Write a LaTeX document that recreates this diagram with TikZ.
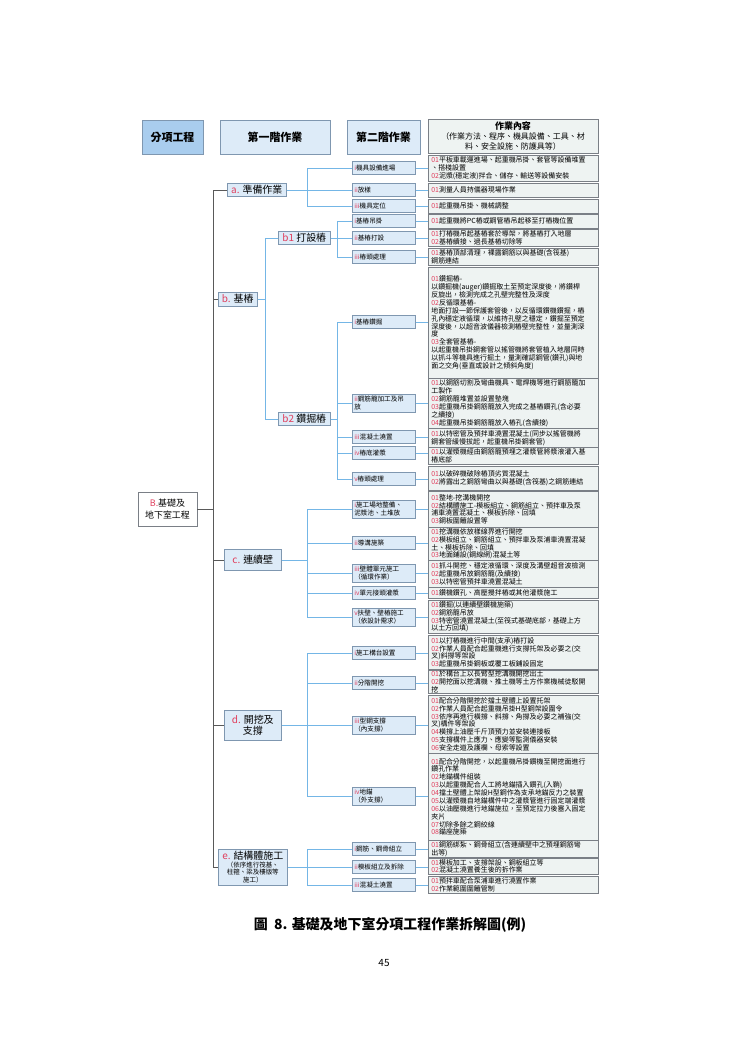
\documentclass[tikz,border=0pt]{standalone}
\usepackage{fontspec}
\setmainfont{Noto Sans CJK TC}
\definecolor{boxfill}{HTML}{DDEBF8}
\definecolor{hdrfill}{HTML}{A9CDEE}
\definecolor{boxline}{HTML}{7F97B0}
\definecolor{cfill}{HTML}{EEF3F2}
\definecolor{cline}{HTML}{7A7F86}
\definecolor{conncol}{HTML}{74B6E6}
\definecolor{redn}{HTML}{E0405E}
\newcommand{\R}[1]{\textcolor{redn}{#1}}
\newcommand{\fs}[2]{\fontsize{#1}{#2}\selectfont}
\begin{document}
\begin{tikzpicture}[x=1bp,y=-1bp,
  hdr/.style={draw=boxline,fill=boxfill,line width=0.6pt,font=\fs{11}{13}\bfseries,align=center,inner sep=1pt},
  lone/.style={draw=boxline,fill=boxfill,line width=0.6pt,anchor=west,font=\fs{10}{11},align=center,inner sep=1.5pt},
  ltwo/.style={draw=boxline,fill=boxfill,line width=0.6pt,anchor=west,font=\fs{6.6}{7.6},align=left,text width=59bp,minimum height=13bp,inner sep=2pt},
  cbox/.style={draw=cline,fill=cfill,line width=0.6pt,anchor=north west,font=\fs{7}{7.9},align=left,text width=164bp,inner xsep=3pt,inner ysep=0.5pt},
  conn/.style={draw=conncol,line width=0.7pt},
  trunk/.style={draw=gray!70!black,line width=0.7pt}]
\fill[white] (0,0) rectangle (740,1047);
\useasboundingbox (0,0) rectangle (740,1047);
% headers
\node[hdr,fill=hdrfill,minimum width=61bp,minimum height=34bp] (h1) at (172.5,137) {分項工程};
\node[hdr,minimum width=110bp,minimum height=34bp] (h2) at (275,137) {第一階作業};
\node[hdr,minimum width=73bp,minimum height=34bp] (h3) at (383.5,137) {第二階作業};
\node[hdr,fill=cfill,draw=cline,minimum width=170bp,minimum height=34bp,font=\fs{8}{9.6}] (h4) at (513,136) {\textbf{\fs{9}{11}作業內容}\\（作業方法、程序、機具設備、工具、材\\料、安全設施、防護具等）};
% root
\node[draw=cline,fill=white,line width=0.6pt,minimum width=59bp,minimum height=34bp,font=\fs{9}{12},align=center] (B) at (167.5,509) {\R{B.}基礎及\\地下室工程};
% level 1
\node[lone,minimum width=59bp,minimum height=13bp] (a) at (227,190) {\R{a.} 準備作業};
\node[lone,minimum width=39bp,minimum height=14bp] (b) at (218,299) {\R{b.} 基樁};
\node[lone,minimum width=52bp,minimum height=13bp] (b1) at (278,238) {\R{b1} 打設樁};
\node[lone,minimum width=52bp,minimum height=13bp] (b2) at (278,419) {\R{b2} 鑽掘樁};
\node[lone,minimum width=57bp,minimum height=21bp] (c) at (224,560) {\R{c.} 連續壁};
\node[lone,minimum width=57bp,minimum height=30bp,align=center] (d) at (224,725) {\R{d.} 開挖及\\支撐};
\node[lone,minimum width=69bp,minimum height=36bp,font=\fs{6.5}{7.5}] (e) at (218,867) {{\fs{10}{11}\R{e.} 結構體施工}\\（依序進行筏基、\\柱箍、梁及樓版等\\施工）};
% level 2
\node[ltwo] (ai) at (352,168) {\R{i}機具設備進場};
\node[ltwo] (aii) at (352,190) {\R{ii}放樣};
\node[ltwo] (aiii) at (352,206) {\R{iii}機具定位};
\node[ltwo] (b1i) at (352,221) {\R{i}基樁吊掛};
\node[ltwo] (b1ii) at (352,238) {\R{ii}基樁打設};
\node[ltwo] (b1iii) at (352,257) {\R{iii}樁頭處理};
\node[ltwo] (b2i) at (352,322) {\R{i}基樁鑽掘};
\node[ltwo] (b2ii) at (352,403) {\R{ii}鋼筋籠加工及吊\\放};
\node[ltwo] (b2iii) at (352,437) {\R{iii}混凝土澆置};
\node[ltwo] (b2iv) at (352,453) {\R{iv}樁底灌漿};
\node[ltwo] (b2v) at (352,479) {\R{v}樁頭處理};
\node[ltwo] (ci) at (352,509) {\R{i}施工場地整備、\\泥漿池、土堆放};
\node[ltwo] (cii) at (352,543) {\R{ii}導溝施築};
\node[ltwo] (ciii) at (352,573) {\R{iii}壁體單元施工\\（循環作業）};
\node[ltwo] (civ) at (352,593) {\R{iv}單元接頭灌漿};
\node[ltwo] (cv) at (352,617) {\R{v}扶壁、壁樁施工\\（依設計需求）};
\node[ltwo] (di) at (352,653) {\R{i}施工構台設置};
\node[ltwo] (dii) at (352,683) {\R{ii}分階開挖};
\node[ltwo] (diii) at (352,725) {\R{iii}型鋼支撐\\（內支撐）};
\node[ltwo] (div) at (352,796) {\R{iv}地錨\\（外支撐）};
\node[ltwo] (ei) at (352,849) {\R{i}鋼筋、鋼骨組立};
\node[ltwo] (eii) at (352,867) {\R{ii}模板組立及拆除};
\node[ltwo] (eiii) at (352,885) {\R{iii}混凝土澆置};
% content
\node[cbox,minimum height=26bp] (Cai) at (428,155) {\R{01}平板車載運進場、起重機吊掛、套管等設備堆置\\、搭棧設置\\\R{02}泥漿(穩定液)拌合、儲存、輸送等設備安裝};
\node[cbox,minimum height=14bp] (Caii) at (428,183) {\R{01}測量人員持儀器現場作業};
\node[cbox,minimum height=14bp] (Caiii) at (428,199) {\R{01}起重機吊掛、機械調整};
\node[cbox,minimum height=14bp] (Cb1i) at (428,214) {\R{01}起重機將PC樁或鋼管樁吊起移至打樁機位置};
\node[cbox,minimum height=17bp] (Cb1ii) at (428,229) {\R{01}打樁機吊起基樁套於導架，將基樁打入地層\\\R{02}基樁續接、過長基樁切除等};
\node[cbox,minimum height=17bp] (Cb1iii) at (428,248) {\R{01}基樁頂部清理，裸露鋼筋以與基礎(含筏基)\\鋼筋連結};
\node[cbox,minimum height=111bp] (Cb2i) at (428,267) {\R{01}鑽掘樁-\\以鑽掘機(\textit{auger})鑽掘取土至預定深度後，將鑽桿\\反旋出，檢測完成之孔壁完整性及深度\\\R{02}反循環基樁-\\地面打設一節保護套管後，以反循環鑽機鑽掘，樁\\孔內穩定液循環，以維持孔壁之穩定，鑽掘至預定\\深度後，以超音波儀器檢測樁壁完整性，並量測深\\度\\\R{03}全套管基樁-\\以起重機吊掛鋼套管以搖管機將套管植入地層同時\\以抓斗等機具進行掘土，量測確認鋼管(鑽孔)與地\\面之交角(垂直或設計之傾斜角度)};
\node[cbox,minimum height=50bp] (Cb2ii) at (428,378) {\R{01}以鋼筋切割及彎曲機具、電焊機等進行鋼筋籠加\\工製作\\\R{02}鋼筋籠堆置並設置墊塊\\\R{03}起重機吊掛鋼筋籠放入完成之基樁鑽孔(含必要\\之續接)\\\R{04}起重機吊掛鋼筋籠放入樁孔(含續接)};
\node[cbox,minimum height=19bp] (Cb2iii) at (428,428) {\R{01}以特密管及預拌車澆置混凝土(同步以搖管機將\\鋼套管緩慢拔起，起重機吊掛鋼套管)};
\node[cbox,minimum height=17bp] (Cb2iv) at (428,447) {\R{01}以灌漿機經由鋼筋籠預埋之灌漿管將漿液灌入基\\樁底部};
\node[cbox,minimum height=24bp] (Cb2v) at (428,466) {\R{01}以破碎機破除樁頂劣質混凝土\\\R{02}將露出之鋼筋彎曲以與基礎(含筏基)之鋼筋連結};
\node[cbox,minimum height=36bp] (Cci) at (428,491) {\R{01}整地-挖溝機開挖\\\R{02}結構體施工-模板組立、鋼筋組立、預拌車及泵\\浦車澆置混凝土、模板拆除、回填\\\R{03}鋼板圍籬設置等};
\node[cbox,minimum height=33bp] (Ccii) at (428,527) {\R{01}挖溝機依放樣線界進行開挖\\\R{02}模板組立、鋼筋組立、預拌車及泵浦車澆置混凝\\土、模板拆除、回填\\\R{03}地面鋪設(鋼線網)混凝土等};
\node[cbox,minimum height=27bp] (Cciii) at (428,560) {\R{01}抓斗開挖、穩定液循環、深度及溝壁超音波檢測\\\R{02}起重機吊放鋼筋籠(及續接)\\\R{03}以特密管預拌車澆置混凝土};
\node[cbox,minimum height=11bp] (Cciv) at (428,587) {\R{01}鑽機鑽孔、高壓攪拌樁或其他灌漿施工};
\node[cbox,minimum height=33bp] (Ccv) at (428,600) {\R{01}鑽掘(以連續壁鑽機施築)\\\R{02}鋼筋籠吊放\\\R{03}特密管澆置混凝土(至筏式基礎底部，基礎上方\\以土方回填)};
\node[cbox,minimum height=34bp] (Cdi) at (428,635) {\R{01}以打樁機進行中間(支承)樁打設\\\R{02}作業人員配合起重機進行支撐托架及必要之(交\\叉)斜撐等架設\\\R{03}起重機吊掛鋼板或覆工板鋪設固定};
\node[cbox,minimum height=23bp] (Cdii) at (428,670) {\R{01}於構台上以長臂型挖溝機開挖出土\\\R{02}開挖面以挖溝機、推土機等土方作業機械徒駁開\\挖};
\node[cbox,minimum height=58bp] (Cdiii) at (428,695) {\R{01}配合分階開挖於擋土壁體上設置托架\\\R{02}作業人員配合起重機吊掛H型鋼架設圍令\\\R{03}依序再進行橫撐、斜撐、角撐及必要之補強(交\\叉)構件等架設\\\R{04}橫撐上油壓千斤頂預力並安裝連接板\\\R{05}支撐構件上應力、應變等監測儀器安裝\\\R{06}安全走道及護欄、母索等設置};
\node[cbox,minimum height=87bp] (Cdiv) at (428,753) {\R{01}配合分階開挖，以起重機吊掛鑽機至開挖面進行\\鑽孔作業\\\R{02}地錨構件組裝\\\R{03}以起重機配合人工將地錨插入鑽孔(入鞘)\\\R{04}擋土壁體上架設H型鋼作為支承地錨反力之裝置\\\R{05}以灌漿機自地錨構件中之灌漿管進行固定端灌漿\\\R{06}以油壓機進行地錨施拉，至預定拉力後塞入固定\\夾片\\\R{07}切除多餘之鋼絞線\\\R{08}錨座施築};
\node[cbox,minimum height=17bp] (Cei) at (428,840) {\R{01}鋼筋綁紮、鋼骨組立(含連續壁中之預埋鋼筋彎\\出等)};
\node[cbox,minimum height=16bp] (Ceii) at (428,858) {\R{01}模板加工、支撐架設、鋼板組立等\\\R{02}混凝土澆置養生後的拆作業};
\node[cbox,minimum height=17bp] (Ceiii) at (428,876) {\R{01}預拌車配合泵浦車進行澆置作業\\\R{02}作業範圍圍籬管制};
% junction coordinates
\coordinate (jB) at (213,509);
\coordinate (ja) at (307,190);
\coordinate (jb) at (265,299);
\coordinate (jb1) at (337,238);
\coordinate (jb2) at (337,419);
\coordinate (jc) at (307,560);
\coordinate (jd) at (307,725);
\coordinate (je) at (307,867);
% trunk
\draw[trunk] (B.east) -- (jB);
\foreach \n in {a,b,c,d,e} \draw[trunk] (jB) |- (\n.west);
% level connectors
\draw[conn] (a.east) -- (ja);
\foreach \n in {ai,aii,aiii} \draw[conn] (ja) |- (\n.west);
\draw[conn] (b.east) -- (jb);
\foreach \n in {b1,b2} \draw[conn] (jb) |- (\n.west);
\draw[conn] (b1.east) -- (jb1);
\foreach \n in {b1i,b1ii,b1iii} \draw[conn] (jb1) |- (\n.west);
\draw[conn] (b2.east) -- (jb2);
\foreach \n in {b2i,b2ii,b2iii,b2iv,b2v} \draw[conn] (jb2) |- (\n.west);
\draw[conn] (c.east) -- (jc);
\foreach \n in {ci,cii,ciii,civ,cv} \draw[conn] (jc) |- (\n.west);
\draw[conn] (d.east) -- (jd);
\foreach \n in {di,dii,diii,div} \draw[conn] (jd) |- (\n.west);
\draw[conn] (e.east) -- (je);
\foreach \n in {ei,eii,eiii} \draw[conn] (je) |- (\n.west);
% content connectors
\foreach \n/\m in {ai/Cai,aii/Caii,aiii/Caiii,b1i/Cb1i,b1ii/Cb1ii,b1iii/Cb1iii,b2i/Cb2i,b2ii/Cb2ii,b2iii/Cb2iii,b2iv/Cb2iv,b2v/Cb2v,ci/Cci,cii/Ccii,ciii/Cciii,civ/Cciv,cv/Ccv,di/Cdi,dii/Cdii,diii/Cdiii,div/Cdiv,ei/Cei,eii/Ceii,eiii/Ceiii}
  \draw[conn] (\n.east) -- (\m.west |- \n.east);
% caption
\node[font=\fs{14}{16}\bfseries] (cap) at (390,925) {圖\ \ 8. 基礎及地下室分項工程作業拆解圖(例)};
\node[font=\fs{10}{12}] (pg) at (384,963) {45};
\end{tikzpicture}
\end{document}
